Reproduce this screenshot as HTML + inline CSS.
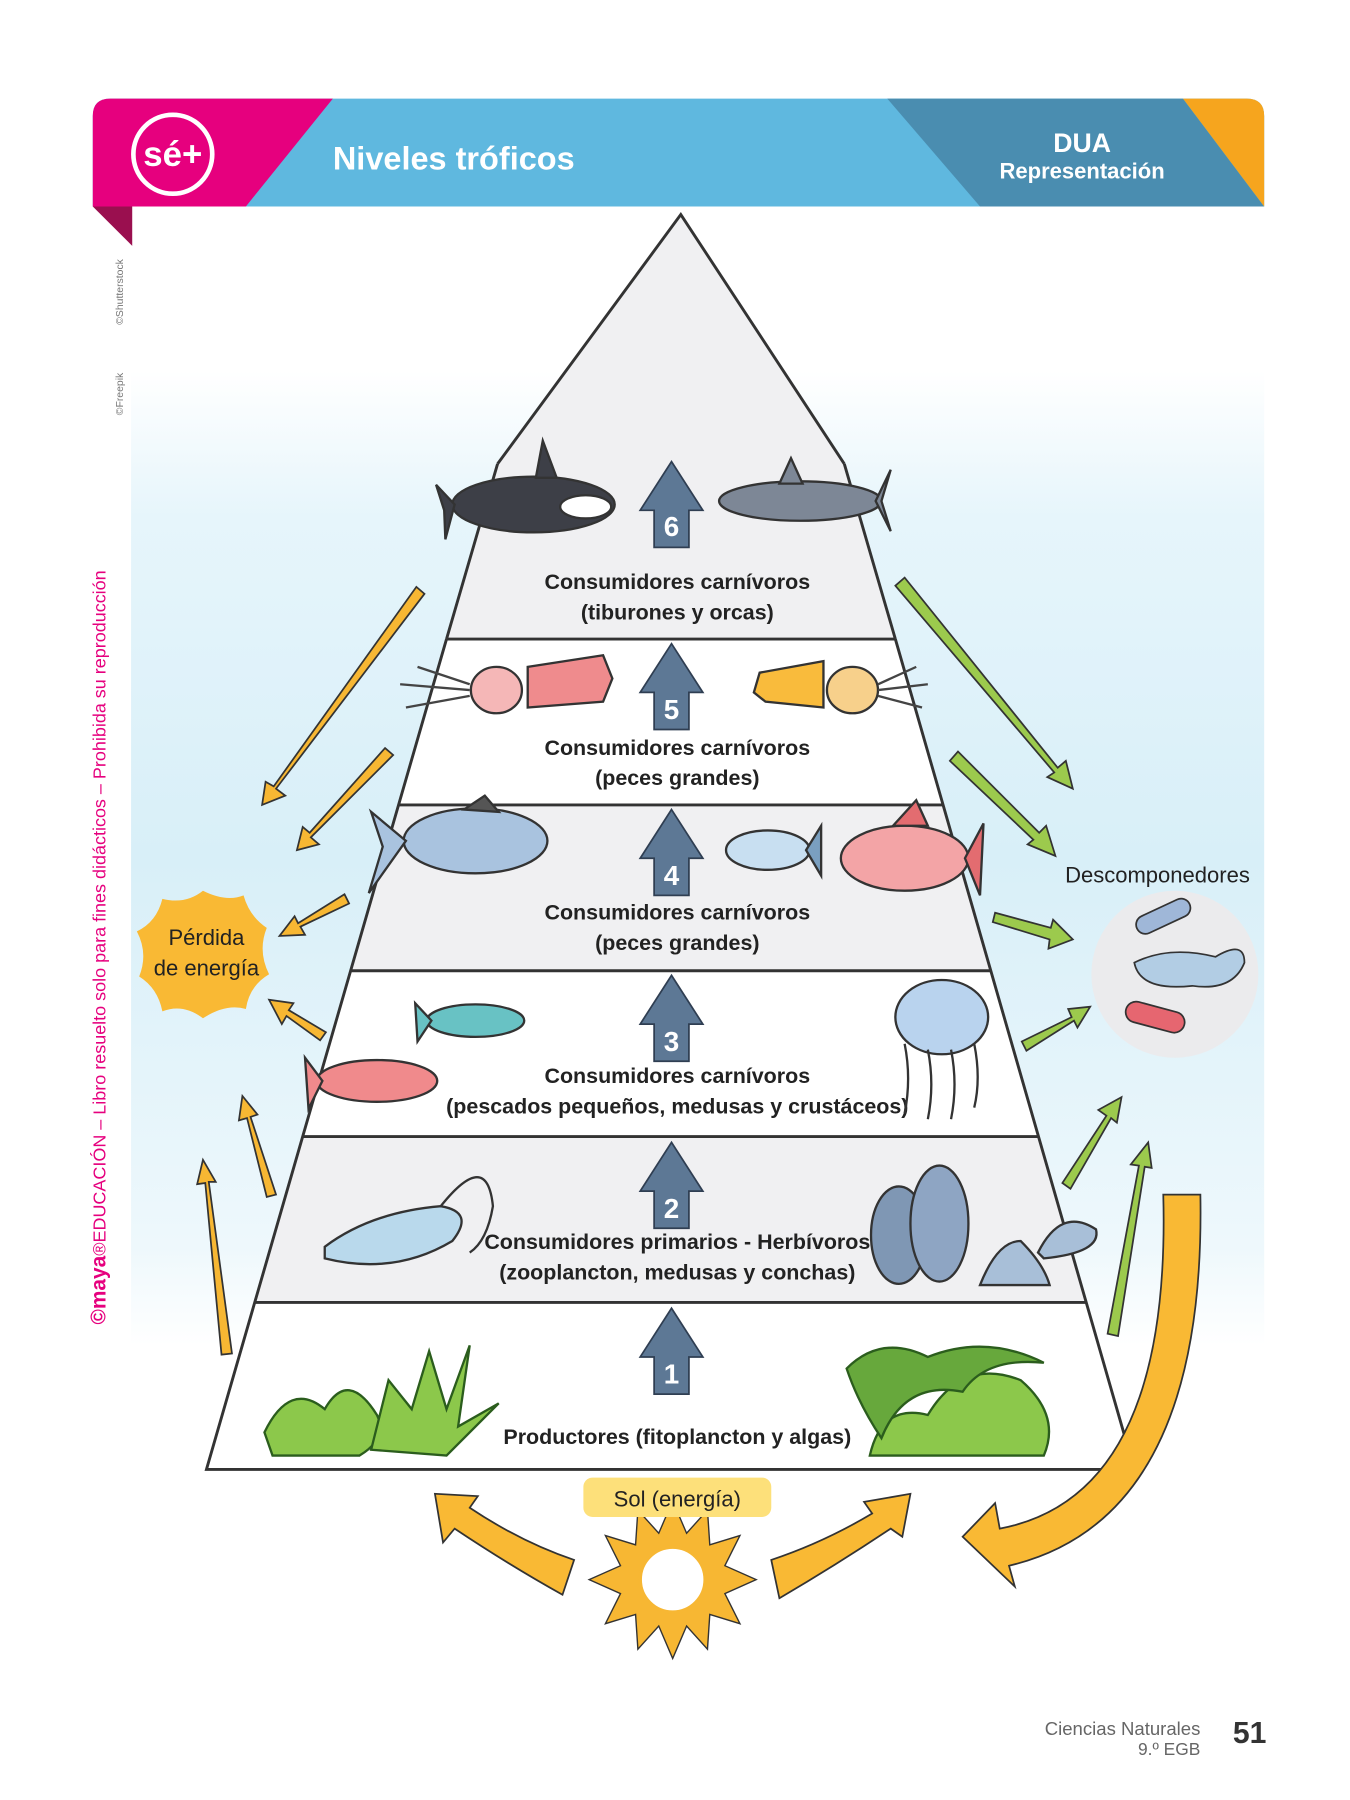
<!DOCTYPE html>
<html><head><meta charset="utf-8"><style>
html,body{margin:0;padding:0;background:#fff}
svg{display:block}
text{font-family:"Liberation Sans",sans-serif}
</style></head><body>
<svg width="1350" height="1800" viewBox="0 0 1164 1552" xmlns="http://www.w3.org/2000/svg">
<defs>
<linearGradient id="sky" x1="0" y1="0" x2="0" y2="1">
<stop offset="0" stop-color="#fff"/><stop offset="0.15" stop-color="#e6f5fb"/><stop offset="0.5" stop-color="#d8eff8"/><stop offset="0.9" stop-color="#eef8fc"/><stop offset="1" stop-color="#fff"/>
</linearGradient>
</defs>
<rect x="113" y="320" width="977" height="840" fill="url(#sky)"/>
<!-- header -->
<path d="M95,85 H1075 Q1090,85 1090,100 V178 H80 V100 Q80,85 95,85Z" fill="#5fb8df"/>
<path d="M80,100 Q80,85 95,85 H287 L212,178 H80Z" fill="#e6007e"/>
<path d="M765,85 H1020 L1090,178 H845Z" fill="#4a8db0"/>
<path d="M1020,85 H1075 Q1090,85 1090,100 V178Z" fill="#f6a51e"/>
<path d="M80,178 H114 V212Z" fill="#9a0f4f"/>
<circle cx="149" cy="133" r="34" fill="none" stroke="#fff" stroke-width="4"/>
<text x="149" y="143" font-size="30" font-weight="bold" fill="#fff" text-anchor="middle">sé+</text>
<text x="287" y="146" font-size="28" font-weight="bold" fill="#fff">Niveles tróficos</text>
<text x="933" y="131" font-size="23" font-weight="bold" fill="#fff" text-anchor="middle">DUA</text>
<text x="933" y="154" font-size="19" font-weight="bold" fill="#fff" text-anchor="middle">Representación</text>
<!-- side texts -->
<text transform="translate(91,1142) rotate(-90)" font-size="15.5" fill="#e6007e"><tspan font-weight="bold" font-size="18">©maya</tspan>®EDUCACIÓN – Libro resuelto solo para fines didácticos – Prohibida su reproducción</text>
<text transform="translate(106,280) rotate(-90)" font-size="9" fill="#777">©Shutterstock</text>
<text transform="translate(106,358) rotate(-90)" font-size="9" fill="#777">©Freepik</text>
<!-- pyramid -->
<path d="M587,185 L728,400 L772,551 L385,551 L429,400Z" fill="#f0f0f2"/>
<path d="M385,551 L772,551 L813,694 L344,694Z" fill="#fff"/>
<path d="M344,694 L813,694 L854,837 L302,837Z" fill="#f0f0f2"/>
<path d="M302,837 L854,837 L896,980 L261,980Z" fill="#fff"/>
<path d="M261,980 L896,980 L937,1123 L220,1123Z" fill="#f0f0f2"/>
<path d="M220,1123 L937,1123 L978,1267 L178,1267Z" fill="#fff"/>
<g stroke="#333" stroke-width="2.5">
<line x1="385" y1="551" x2="772" y2="551"/><line x1="344" y1="694" x2="813" y2="694"/>
<line x1="302" y1="837" x2="854" y2="837"/><line x1="261" y1="980" x2="896" y2="980"/>
<line x1="220" y1="1123" x2="937" y2="1123"/>
</g>
<path d="M429,400 L587,185 L728,400 M772,551 L978,1267 L178,1267 L385,551" fill="none" stroke="#333" stroke-width="2.5"/>
<line x1="429" y1="400" x2="385" y2="551" stroke="#333" stroke-width="2.5"/>
<line x1="728" y1="400" x2="772" y2="551" stroke="#333" stroke-width="2.5"/>
<!-- up arrows -->
<g fill="#5d7895" stroke="#2f3e52" stroke-width="1.5">
<path d="M579,398 L606,440 L594,440 L594,472 L564,472 L564,440 L552,440Z"/>
<path d="M579,555 L606,597 L594,597 L594,629 L564,629 L564,597 L552,597Z"/>
<path d="M579,698 L606,740 L594,740 L594,772 L564,772 L564,740 L552,740Z"/>
<path d="M579,841 L606,883 L594,883 L594,915 L564,915 L564,883 L552,883Z"/>
<path d="M579,985 L606,1027 L594,1027 L594,1059 L564,1059 L564,1027 L552,1027Z"/>
<path d="M579,1128 L606,1170 L594,1170 L594,1202 L564,1202 L564,1170 L552,1170Z"/>
</g>
<g fill="#fff" font-size="24" font-weight="bold" text-anchor="middle">
<text x="579" y="462">6</text><text x="579" y="620">5</text><text x="579" y="763">4</text><text x="579" y="906">3</text><text x="579" y="1050">2</text><text x="579" y="1193">1</text>
</g>
<g font-size="18.5" fill="#222" text-anchor="middle" font-weight="bold">
<text x="584" y="508">Consumidores carnívoros</text><text x="584" y="534">(tiburones y orcas)</text>
<text x="584" y="651">Consumidores carnívoros</text><text x="584" y="677">(peces grandes)</text>
<text x="584" y="793">Consumidores carnívoros</text><text x="584" y="819">(peces grandes)</text>
<text x="584" y="934">Consumidores carnívoros</text><text x="584" y="960">(pescados pequeños, medusas y crustáceos)</text>
<text x="584" y="1077">Consumidores primarios - Herbívoros</text><text x="584" y="1103">(zooplancton, medusas y conchas)</text>
<text x="584" y="1245">Productores (fitoplancton y algas)</text>
</g>
<!-- animals (approximate) -->
<g stroke="#333" stroke-width="2">
<ellipse cx="460" cy="435" rx="70" ry="24" fill="#3d3f47"/><ellipse cx="505" cy="437" rx="22" ry="10" fill="#fff"/>
<path d="M462,412 L468,380 L480,412Z" fill="#3d3f47"/><path d="M392,435 L376,418 L383,440 L384,465Z" fill="#3d3f47"/>
<ellipse cx="690" cy="432" rx="70" ry="17" fill="#7d8796"/><path d="M672,417 L682,395 L692,417Z" fill="#7d8796"/><path d="M755,432 L768,405 L760,432 L768,458Z" fill="#7d8796"/>
<path d="M455,575 L520,565 L528,585 L520,605 L455,610Z" fill="#ef8b8d"/><ellipse cx="428" cy="595" rx="22" ry="20" fill="#f5b7b7"/><path d="M405,595 L345,590 M405,600 L350,610 M405,590 L360,575" stroke="#444"/>
<path d="M710,570 L655,580 L650,597 L660,605 L710,610Z" fill="#f9bb3c"/><ellipse cx="735" cy="595" rx="22" ry="20" fill="#f7d08b"/><path d="M757,595 L800,590 M757,600 L795,610 M757,590 L790,575" stroke="#444"/>
<ellipse cx="410" cy="725" rx="62" ry="28" fill="#a9c3df"/><path d="M350,725 L320,700 L330,730 L318,770Z" fill="#a9c3df"/><path d="M400,698 L418,686 L430,700Z" fill="#555"/>
<ellipse cx="662" cy="733" rx="36" ry="17" fill="#c8dff1"/><path d="M695,733 L708,712 L708,755Z" fill="#7a9fc0"/>
<ellipse cx="780" cy="740" rx="55" ry="28" fill="#f3a4a6"/><path d="M832,740 L848,710 L845,772Z" fill="#e36c70"/><path d="M770,712 L790,690 L800,712Z" fill="#e36c70"/>
<ellipse cx="410" cy="880" rx="42" ry="14" fill="#68c2c4"/><path d="M372,880 L358,865 L360,898Z" fill="#68c2c4"/>
<ellipse cx="325" cy="932" rx="52" ry="18" fill="#f08a8c"/><path d="M278,932 L263,912 L266,956Z" fill="#f08a8c"/>
<ellipse cx="812" cy="877" rx="40" ry="32" fill="#b9d3ee"/><path d="M780,900 q6,30 0,60 M800,905 q6,30 0,60 M820,905 q6,30 0,60 M840,900 q6,30 0,55" fill="none"/>
<path d="M280,1075 q40,-30 100,-35 q30,5 10,30 q-50,30 -110,15Z" fill="#b9d9ec"/><path d="M380,1040 q40,-50 45,0 q-5,30 -20,40" fill="none"/>
<ellipse cx="775" cy="1065" rx="24" ry="42" fill="#7f97b4"/><ellipse cx="810" cy="1055" rx="25" ry="50" fill="#8ea5c3"/>
<path d="M845,1108 Q860,1070 880,1070 Q900,1090 905,1108Z" fill="#a8bfd8"/><path d="M895,1080 Q915,1040 945,1060 Q950,1080 900,1085Z" fill="#a8bfd8"/>
</g>
<g fill="#8cc84b" stroke="#2b5d1d" stroke-width="2">
<path d="M228,1235 Q250,1190 280,1215 Q300,1180 325,1220 Q335,1240 310,1255 L235,1255Z"/>
<path d="M320,1250 L335,1190 L355,1215 L370,1165 L385,1215 L405,1160 L395,1230 L430,1210 L385,1255Z"/>
<path d="M750,1255 Q760,1210 800,1220 Q830,1170 880,1190 Q915,1220 900,1255Z"/>
<path d="M730,1180 Q760,1150 800,1170 Q850,1150 900,1175 Q850,1170 830,1200 Q780,1190 760,1240 Q740,1210 730,1180Z" fill="#67a83c"/>
</g>
<!-- side arrows -->
<g stroke="#333" stroke-width="1.5" fill="#f7b733">
<path d="M359,506 L366,512 L238,680 L246,686 L226,694 L229,674 L236,678Z"/>
<path d="M332,645 L339,651 L268,722 L275,728 L256,733 L261,713 L267,718Z"/>
<path d="M297,771 L301,779 L259,799 L263,806 L241,807 L254,790 L257,796Z"/>
<path d="M281,890 L276,897 L247,876 L243,883 L232,862 L253,865 L249,871Z"/>
<path d="M238,1030 L230,1032 L213,964 L206,966 L209,945 L222,961 L216,963Z"/>
<path d="M200,1167 L191,1168 L177,1020 L170,1021 L175,1000 L186,1019 L180,1019Z"/>
</g>
<g stroke="#333" stroke-width="1.5" fill="#9cca4d">
<path d="M772,505 L780,498 L912,662 L919,656 L925,680 L903,670 L909,666Z"/>
<path d="M819,656 L826,648 L896,718 L902,712 L910,738 L886,728 L891,724Z"/>
<path d="M856,795 L858,787 L906,800 L908,793 L925,810 L904,818 L905,810Z"/>
<path d="M885,906 L881,898 L924,877 L921,870 L940,868 L929,886 L926,880Z"/>
<path d="M923,1025 L916,1020 L954,962 L947,957 L967,946 L963,968 L958,964Z"/>
<path d="M964,1152 L955,1150 L982,1005 L975,1004 L990,985 L993,1007 L987,1006Z"/>
</g>
<!-- bottom arrows -->
<g stroke="#333" stroke-width="1.5" fill="#f9b934">
<path d="M495,1345 Q450,1330 405,1300 L412,1290 L375,1288 L382,1330 L392,1318 Q440,1350 485,1375Z"/>
<path d="M665,1345 Q710,1330 752,1305 L745,1295 L785,1288 L778,1325 L768,1318 Q720,1350 672,1378Z"/>
<path d="M1003,1030 L1035,1030 Q1040,1310 870,1350 L875,1368 L830,1325 L858,1296 L862,1318 Q1010,1290 1003,1030Z"/>
</g>
<!-- sun -->
<g transform="translate(580,1362)">
<g fill="#f7b733" stroke="#333" stroke-width="1.2">
<path d="M0,-68 L12,-40 L30,-60 L32,-30 L58,-38 L45,-12 L72,0 L45,12 L58,38 L32,30 L30,60 L12,40 L0,68 L-12,40 L-30,60 L-32,30 L-58,38 L-45,12 L-72,0 L-45,-12 L-58,-38 L-32,-30 L-30,-60 L-12,-40Z"/>
</g>
<circle r="28" fill="#fff" stroke="#f7b733" stroke-width="3"/>
</g>
<rect x="503" y="1274" width="162" height="34" rx="8" fill="#fde07a"/>
<text x="584" y="1299" font-size="19" text-anchor="middle" fill="#222">Sol (energía)</text>
<!-- perdida -->
<path d="M175,768 Q195,778 210,772 Q215,790 230,800 Q222,820 232,840 Q215,850 212,870 Q195,865 175,878 Q158,865 140,872 Q136,852 120,842 Q128,822 118,803 Q135,795 140,775 Q160,780 175,768Z" fill="#f9b934"/>
<text x="178" y="815" font-size="19" text-anchor="middle" fill="#222">Pérdida</text>
<text x="178" y="841" font-size="19" text-anchor="middle" fill="#222">de energía</text>
<!-- decomposers -->
<text x="998" y="761" font-size="19" text-anchor="middle" fill="#222">Descomponedores</text>
<circle cx="1013" cy="840" r="72" fill="#ebebed"/>
<g stroke="#333" stroke-width="1.5">
<rect x="978" y="782" width="50" height="16" rx="8" fill="#9fb7d8" transform="rotate(-25 1003 790)"/>
<path d="M978,830 q30,-15 70,-5 q25,-15 25,5 q-10,25 -45,20 q-45,5 -50,-20Z" fill="#b2cde4"/>
<rect x="970" y="868" width="52" height="18" rx="9" fill="#e66670" transform="rotate(15 996 877)"/>
</g>
<!-- footer -->
<text x="1035" y="1496" font-size="16" fill="#666" text-anchor="end">Ciencias Naturales</text>
<text x="1035" y="1513" font-size="15" fill="#666" text-anchor="end">9.º EGB</text>
<text x="1063" y="1503" font-size="26" font-weight="bold" fill="#333">51</text>
</svg>
</body></html>
